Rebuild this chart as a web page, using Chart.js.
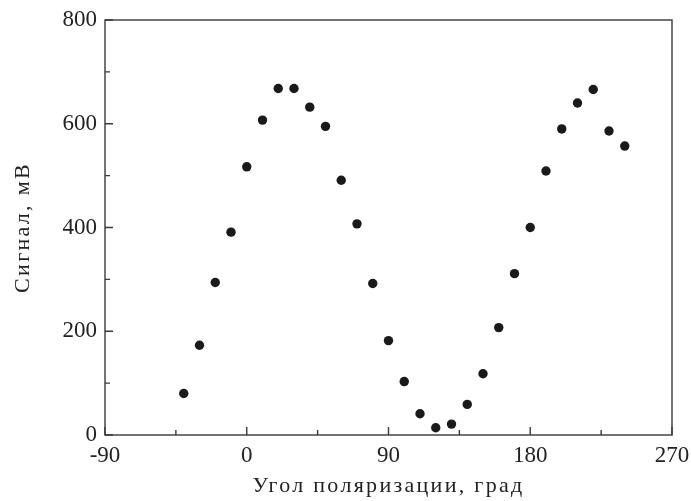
<!DOCTYPE html>
<html>
<head>
<meta charset="utf-8">
<script src="https://cdn.jsdelivr.net/npm/chart.js@4"></script>
<style>
  html, body { margin: 0; padding: 0; background: #fff; }
  #wrap { width: 691px; height: 501px; }
</style>
</head>
<body>
<div id="wrap"><canvas id="polChart" width="691" height="501"></canvas></div>
<script>
// polarization angle, degrees
const angles = [-40, -30, -20, -10, 0, 10, 20, 30, 40, 50, 60, 70, 80, 90, 100,
  110, 120, 130, 140, 150, 160, 170, 180, 190, 200, 210, 220, 230, 240];
// signal, mV
const signal = [80, 173, 294, 391, 517, 607, 668, 668, 632, 595, 491, 407, 292, 182, 103,
  41, 14, 21, 59, 118, 207, 311, 400, 509, 590, 640, 666, 586, 557];

const xTicks = [-90, 0, 90, 180, 270];
const xMinor = [-45, 45, 135, 225];
const yTicks = [0, 200, 400, 600, 800];
const yMinor = [100, 300, 500, 700];

const axisColor = '#3a3a3a';
const serif = '"Liberation Serif", "DejaVu Serif", serif';

// frame + inward ticks
const framePlugin = {
  id: 'frame',
  afterDraw(chart) {
    const { ctx, chartArea: a, scales } = chart;
    ctx.save();
    ctx.strokeStyle = axisColor;
    ctx.lineWidth = 1.4;
    ctx.strokeRect(a.left, a.top, a.right - a.left, a.bottom - a.top);
    ctx.beginPath();
    xTicks.forEach(v => {
      const px = scales.x.getPixelForValue(v);
      ctx.moveTo(px, a.bottom); ctx.lineTo(px, a.bottom - 8);
    });
    xMinor.forEach(v => {
      const px = scales.x.getPixelForValue(v);
      ctx.moveTo(px, a.bottom); ctx.lineTo(px, a.bottom - 5);
    });
    yTicks.forEach(v => {
      const py = scales.y.getPixelForValue(v);
      ctx.moveTo(a.left, py); ctx.lineTo(a.left + 8, py);
    });
    yMinor.forEach(v => {
      const py = scales.y.getPixelForValue(v);
      ctx.moveTo(a.left, py); ctx.lineTo(a.left + 5, py);
    });
    ctx.stroke();
    ctx.restore();
  }
};

// wider spacing for the axis titles (the original uses a wide TeX font)
function spacedTitle(s) {
  if (s._spaced) return;
  s._spaced = true;
  const orig = s.drawTitle;
  s.drawTitle = function () {
    this.ctx.letterSpacing = '2.3px';
    orig.call(this);
    this.ctx.letterSpacing = '0px';
  };
}

const ctx = document.getElementById('polChart').getContext('2d');
const chart = new Chart(ctx, {
  type: 'scatter',
  data: {
    datasets: [{
      data: angles.map((a, i) => ({ x: a, y: signal[i] })),
      backgroundColor: '#1a1a1a',
      borderWidth: 0,
      pointRadius: 4.7,
      pointHoverRadius: 4.7
    }]
  },
  options: {
    responsive: false,
    animation: false,
    layout: { padding: { top: 20, right: 19, left: 0, bottom: 0 } },
    plugins: { legend: { display: false }, tooltip: { enabled: false } },
    scales: {
      x: {
        type: 'linear',
        min: -90,
        max: 270,
        afterBuildTicks: (s) => { s.ticks = xTicks.map(v => ({ value: v })); },
        afterFit: (s) => {
          s.height = 66;
          s.paddingLeft = 0;
          s.paddingRight = 0;
          spacedTitle(s);
        },
        grid: { display: false, drawTicks: false },
        border: { display: false },
        ticks: {
          autoSkip: false,
          maxRotation: 0,
          padding: 9,
          color: '#222',
          font: { family: serif, size: 23, lineHeight: 1 }
        },
        title: {
          display: true,
          text: 'Угол поляризации, град',
          color: '#222',
          padding: { top: 0, bottom: 4 },
          font: { family: serif, size: 22, lineHeight: 1 }
        }
      },
      y: {
        min: 0,
        max: 800,
        afterBuildTicks: (s) => { s.ticks = yTicks.map(v => ({ value: v })); },
        afterFit: (s) => {
          s.width = 105;
          s.paddingTop = 0;
          s.paddingBottom = 0;
          spacedTitle(s);
        },
        grid: { display: false, drawTicks: false },
        border: { display: false },
        ticks: {
          autoSkip: false,
          padding: 8,
          color: '#222',
          font: { family: serif, size: 23, lineHeight: 1 }
        },
        title: {
          display: true,
          text: 'Сигнал, мВ',
          color: '#222',
          padding: { top: 12, bottom: 0 },
          font: { family: serif, size: 22, lineHeight: 1 }
        }
      }
    }
  },
  plugins: [framePlugin]
});
</script>
</body>
</html>
